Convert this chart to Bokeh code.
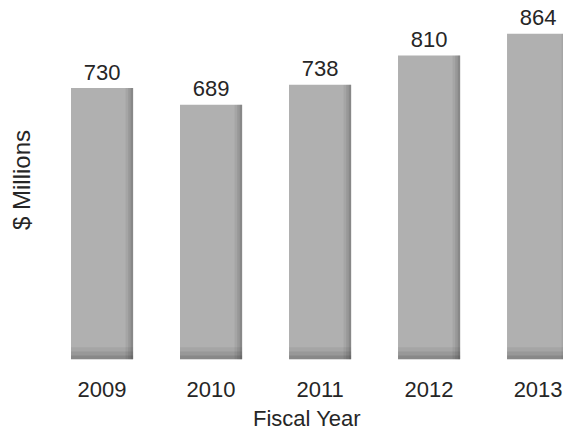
import numpy as np
from bokeh.plotting import figure
from bokeh.models import Range1d, FixedTicker, ColumnDataSource
from bokeh.core.properties import value
from bokeh.embed import file_html
from bokeh.resources import INLINE

# ---- data ----
years = [2009, 2010, 2011, 2012, 2013]
revenue = [730, 689, 738, 810, 864]
year_labels = ["2009", "2010", "2011", "2012", "2013"]
value_labels = ["730", "689", "738", "810", "864"]

# ---- layout / style ----
FONT = "Liberation Sans"
TEXT_COLOR = "#262626"
Y_BASE = 60
BAR_W = 0.57

p = figure(width=563, height=433, output_backend="svg", toolbar_location=None,
           x_range=Range1d(2008.527, 2013.233), y_range=Range1d(Y_BASE, 946),
           min_border_left=50, min_border_right=0, min_border_top=0,
           min_border_bottom=72)
p.outline_line_color = None
p.grid.visible = False
p.background_fill_color = "white"
p.border_fill_color = "white"

src = ColumnDataSource(dict(x=years, top=revenue, label=value_labels))
xs = np.array(years, dtype=float)

# main bar body
p.vbar(x="x", top="top", bottom=Y_BASE, width=BAR_W, source=src,
       fill_color="#b0b0b0", line_color=None)
# darker right edge shading (soft gradient)
for w, a in [(0.07, 0.06), (0.045, 0.08), (0.022, 0.10)]:
    p.vbar(x=xs + BAR_W / 2 - w / 2, top=revenue, bottom=Y_BASE, width=w,
           fill_color="#000000", fill_alpha=a, line_color=None)
# darker bottom band (soft gradient)
for h, a in [(30, 0.06), (20, 0.08), (10, 0.10)]:
    p.vbar(x=xs, top=Y_BASE + h, bottom=Y_BASE, width=BAR_W,
           fill_color="#000000", fill_alpha=a, line_color=None)

# value labels
p.text(x="x", y="top", text="label", source=src, y_offset=-16,
       text_align="center", text_baseline="alphabetic",
       text_font=value(FONT), text_font_size="22px", text_color=TEXT_COLOR)

# x axis
xa = p.xaxis[0]
xa.ticker = FixedTicker(ticks=years)
xa.major_label_overrides = {y: l for y, l in zip(years, year_labels)}
xa.major_label_text_font = FONT
xa.major_label_text_font_size = "22px"
xa.major_label_text_color = TEXT_COLOR
xa.major_label_standoff = 16
xa.axis_label = "Fiscal Year"
xa.axis_label_text_font = FONT
xa.axis_label_text_font_size = "22px"
xa.axis_label_text_font_style = "normal"
xa.axis_label_text_color = TEXT_COLOR
xa.axis_label_standoff = 6
xa.axis_line_color = None
xa.major_tick_line_color = None
xa.minor_tick_line_color = None

# y axis (label only)
ya = p.yaxis[0]
ya.ticker = FixedTicker(ticks=[])
ya.axis_label = "$ Millions"
ya.axis_label_text_font = FONT
ya.axis_label_text_font_size = "24px"
ya.axis_label_text_font_style = "normal"
ya.axis_label_text_color = TEXT_COLOR
ya.axis_label_standoff = 16
ya.axis_line_color = None
ya.major_tick_line_color = None
ya.minor_tick_line_color = None

open("out.html", "w").write(file_html(p, INLINE))
